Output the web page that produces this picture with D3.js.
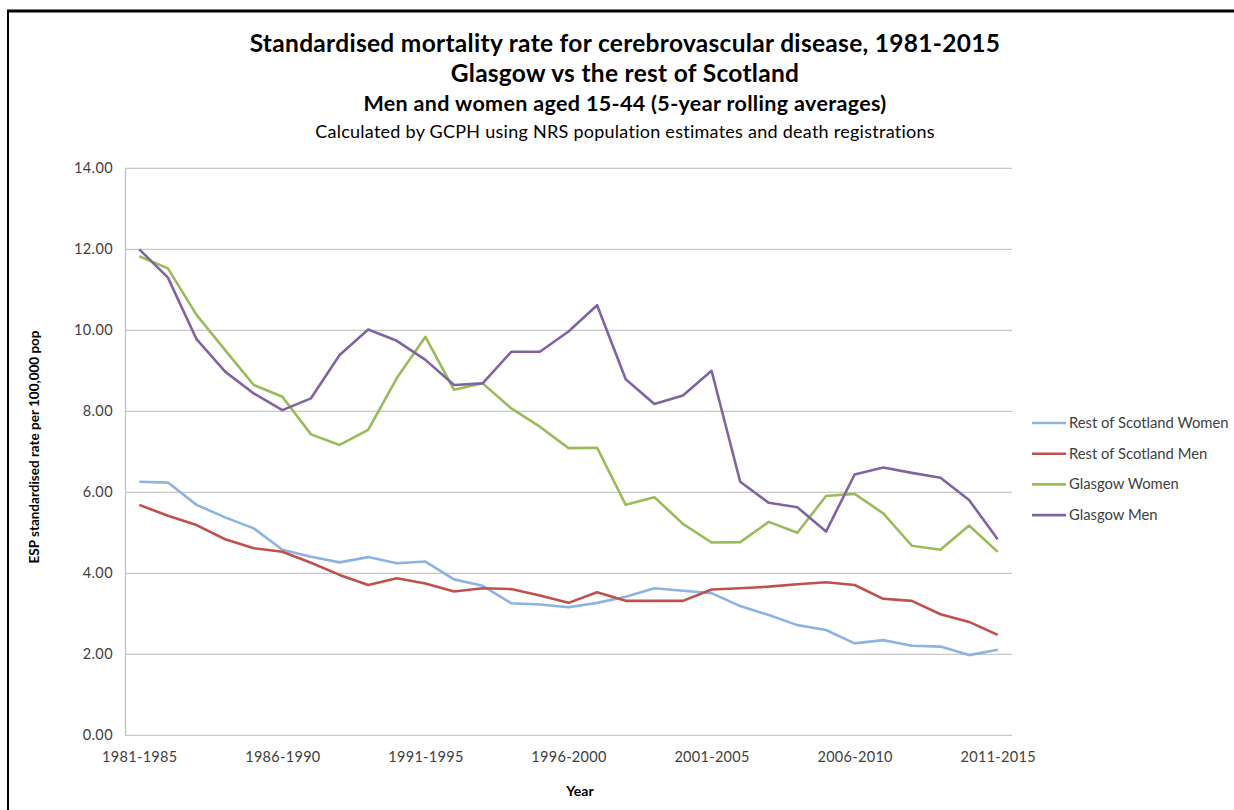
<!DOCTYPE html>
<html>
<head>
<meta charset="utf-8">
<script src="https://cdn.jsdelivr.net/npm/d3@7"></script>
<style>
  body { margin: 0; background: #fff; }
  svg { display: block; font-family: Lato, "Liberation Sans", sans-serif; }
</style>
</head>
<body>
<div id="chart"></div>
<script>
// 5-year rolling periods, 1981-1985 .. 2011-2015
const periods = d3.range(1981, 2012).map(y => `${y}-${y + 4}`);
const tickPeriods = ["1981-1985", "1986-1990", "1991-1995", "1996-2000", "2001-2005", "2006-2010", "2011-2015"];
const yTicks = [0, 2, 4, 6, 8, 10, 12, 14];

const restWomen = [6.26, 6.24, 5.69, 5.38, 5.11, 4.58, 4.41, 4.27, 4.40, 4.25,
  4.29, 3.85, 3.69, 3.26, 3.23, 3.16, 3.27, 3.42, 3.63, 3.57,
  3.51, 3.19, 2.97, 2.72, 2.60, 2.27, 2.35, 2.21, 2.19, 1.98, 2.11];
const restMen = [5.69, 5.42, 5.19, 4.84, 4.62, 4.53, 4.26, 3.96, 3.71, 3.88,
  3.75, 3.55, 3.63, 3.61, 3.45, 3.27, 3.53, 3.32, 3.32, 3.32,
  3.60, 3.63, 3.67, 3.73, 3.78, 3.71, 3.37, 3.32, 2.99, 2.80, 2.48];
const glasgowWomen = [11.83, 11.53, 10.38, 9.51, 8.65, 8.36, 7.43, 7.17, 7.54, 8.82,
  9.84, 8.53, 8.69, 8.07, 7.62, 7.09, 7.10, 5.69, 5.88, 5.22,
  4.76, 4.77, 5.27, 5.00, 5.91, 5.96, 5.48, 4.68, 4.58, 5.18, 4.53];
const glasgowMen = [12.00, 11.30, 9.78, 8.98, 8.44, 8.03, 8.32, 9.39, 10.02, 9.74,
  9.27, 8.65, 8.69, 9.47, 9.47, 9.97, 10.62, 8.79, 8.18, 8.39,
  9.00, 6.26, 5.74, 5.63, 5.03, 6.44, 6.61, 6.48, 6.36, 5.81, 4.84];

const series = [
  { name: "Rest of Scotland Women", values: restWomen, color: "#8cb3e2" },
  { name: "Rest of Scotland Men", values: restMen, color: "#c0504d" },
  { name: "Glasgow Women", values: glasgowWomen, color: "#9bbb59" },
  { name: "Glasgow Men", values: glasgowMen, color: "#8064a2" }
];

const width = 1234, height = 810;
const plot = { left: 125, right: 1012, top: 168.3, bottom: 735.3 };

const svg = d3.select("#chart").append("svg")
  .attr("width", width)
  .attr("height", height);

// frame of the screenshot
svg.append("line").attr("x1", 7).attr("x2", width).attr("y1", 11).attr("y2", 11)
  .attr("stroke", "#000").attr("stroke-width", 3);
svg.append("line").attr("x1", 8).attr("x2", 8).attr("y1", 10).attr("y2", height)
  .attr("stroke", "#000").attr("stroke-width", 2);

const x = d3.scalePoint().domain(periods).range([plot.left, plot.right]).padding(0.5);
const y = d3.scaleLinear().domain([0, 14]).range([plot.bottom, plot.top]);

// gridlines
svg.append("g").selectAll("line").data(yTicks.slice(1)).join("line")
  .attr("x1", plot.left).attr("x2", plot.right)
  .attr("y1", d => y(d)).attr("y2", d => y(d))
  .attr("stroke", "#c8c8c8").attr("stroke-width", 1.3);

// y axis
const yAxis = svg.append("g")
  .attr("transform", `translate(${plot.left},0)`)
  .call(d3.axisLeft(y).tickValues(yTicks).tickFormat(d3.format(".2f")).tickSize(0).tickPadding(12));
yAxis.select(".domain").attr("stroke", "#bfbfbf").attr("stroke-width", 1.3);
yAxis.selectAll("text").attr("font-size", 14.5).attr("letter-spacing", 0.4).attr("fill", "#404040")
  .attr("font-family", "Lato, sans-serif");

// x axis
const xAxis = svg.append("g")
  .attr("transform", `translate(0,${plot.bottom})`)
  .call(d3.axisBottom(x).tickValues(tickPeriods).tickSize(0).tickPadding(16));
xAxis.select(".domain").attr("d", `M${plot.left},0H${plot.right}`)
  .attr("stroke", "#c8c8c8").attr("stroke-width", 1.3);
xAxis.selectAll("text").attr("font-size", 14.5).attr("letter-spacing", 0.3).attr("fill", "#404040")
  .attr("font-family", "Lato, sans-serif");

// lines
const line = d3.line().x((d, i) => x(periods[i])).y(d => y(d));
svg.append("g").selectAll("path").data(series).join("path")
  .attr("d", d => line(d.values))
  .attr("fill", "none")
  .attr("stroke", d => d.color)
  .attr("stroke-width", 2.6)
  .attr("stroke-linejoin", "round");

// titles
const titles = [
  { text: "Standardised mortality rate for cerebrovascular disease, 1981-2015", y: 52, size: 24.5, ls: 0.3, weight: "bold" },
  { text: "Glasgow vs the rest of Scotland", y: 82, size: 24.5, ls: 0.3, weight: "bold" },
  { text: "Men and women aged 15-44 (5-year rolling averages)", y: 111, size: 21.5, ls: 0.34, weight: "bold" },
  { text: "Calculated by GCPH using NRS population estimates and death registrations", y: 138, size: 18, ls: 0.26, weight: "normal" }
];
svg.append("g").selectAll("text").data(titles).join("text")
  .attr("x", 625).attr("y", d => d.y)
  .attr("text-anchor", "middle")
  .attr("font-size", d => d.size)
  .attr("letter-spacing", d => d.ls)
  .attr("font-weight", d => d.weight)
  .attr("fill", "#000")
  .text(d => d.text);

// axis titles
svg.append("text")
  .attr("x", 580).attr("y", 796)
  .attr("text-anchor", "middle")
  .attr("font-size", 14).attr("font-weight", "bold")
  .text("Year");
svg.append("text")
  .attr("transform", "translate(39,447) rotate(-90)")
  .attr("text-anchor", "middle")
  .attr("font-size", 13.5).attr("font-weight", "bold")
  .text("ESP standardised rate per 100,000 pop");

// legend
const legend = svg.append("g").attr("transform", "translate(1032,423)");
const item = legend.selectAll("g").data(series).join("g")
  .attr("transform", (d, i) => `translate(0,${i * 30.7})`);
item.append("line").attr("x1", 0).attr("x2", 34)
  .attr("stroke", d => d.color).attr("stroke-width", 2.6);
item.append("text").attr("x", 37).attr("y", 5)
  .attr("font-size", 14.8).attr("fill", "#404040")
  .text(d => d.name);
</script>
</body>
</html>
